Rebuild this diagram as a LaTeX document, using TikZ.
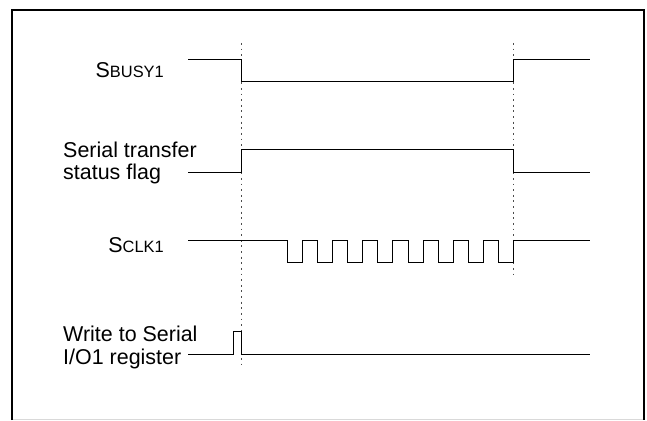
\documentclass[tikz,border=0pt]{standalone}
\usepackage{fontspec}
\setmainfont{Liberation Sans}
\newcommand{\sigfont}{\fontsize{18.3}{19.6}\selectfont}
\newcommand{\sigsc}[2]{#1{\fontsize{14}{16}\selectfont #2}}
\tikzset{
  sigline/.style={line width=0.8pt, line join=miter},
  edgemark/.style={line width=0.6pt, black!70, dash pattern=on 1.6pt off 3.2pt},
  siglabel/.style={inner sep=0pt, font=\sigfont},
}
\begin{document}
\begin{tikzpicture}[scale=0.3]
	\useasboundingbox (0,0) rectangle (64.7,42);
	% frame
	\draw [black!15, line width=0.6pt] (1.3,0.1) -- (64.3,0.1);
	\draw [line width=1.8pt] (1.2,0) -- (1.2,41) -- (64.4,41) -- (64.4,0);
	% edges
	\draw [edgemark] (24.1,37.7) -- (24.1,5.3);
	\draw [edgemark] (51.37,37.7) -- (51.37,14.3);
	% signals
	\node [siglabel, anchor=base east] (busy) at (16.4,34.23) {\sigsc{S}{BUSY1}};
	\draw [sigline] (18.8,36.1) -- (24.1,36.1) -- (24.1,33.9) -- (51.37,33.9) -- (51.37,36.1) -- (59,36.1);
	\node [siglabel, anchor=base west, align=left] (flag) at (6.3,24.0) {Serial transfer\\status flag};
	\draw [sigline] (18.8,24.8) -- (24.1,24.8) -- (24.1,27.1) -- (51.37,27.1) -- (51.37,24.8) -- (59,24.8);
	\node [siglabel, anchor=base east] (sclk) at (16.4,16.73) {\sigsc{S}{CLK1}};
	\draw [sigline] (18.8,17.93) -- (28.73,17.93)
		\foreach \k in {0,...,7} {
			-- ++(0,-2.16) -- ++(1.509,0) -- ++(0,2.16) -- ++(1.509,0)
		} -- (59,17.93);
	\node [siglabel, anchor=base west, align=left] (write) at (6.3,5.6) {Write to Serial\\I/O1 register};
	\draw [sigline] (18.8,6.6) -- (23.33,6.6) -- (23.33,8.9) -- (24.1,8.9) -- (24.1,6.6) -- (59,6.6);
\end{tikzpicture}
\end{document}
